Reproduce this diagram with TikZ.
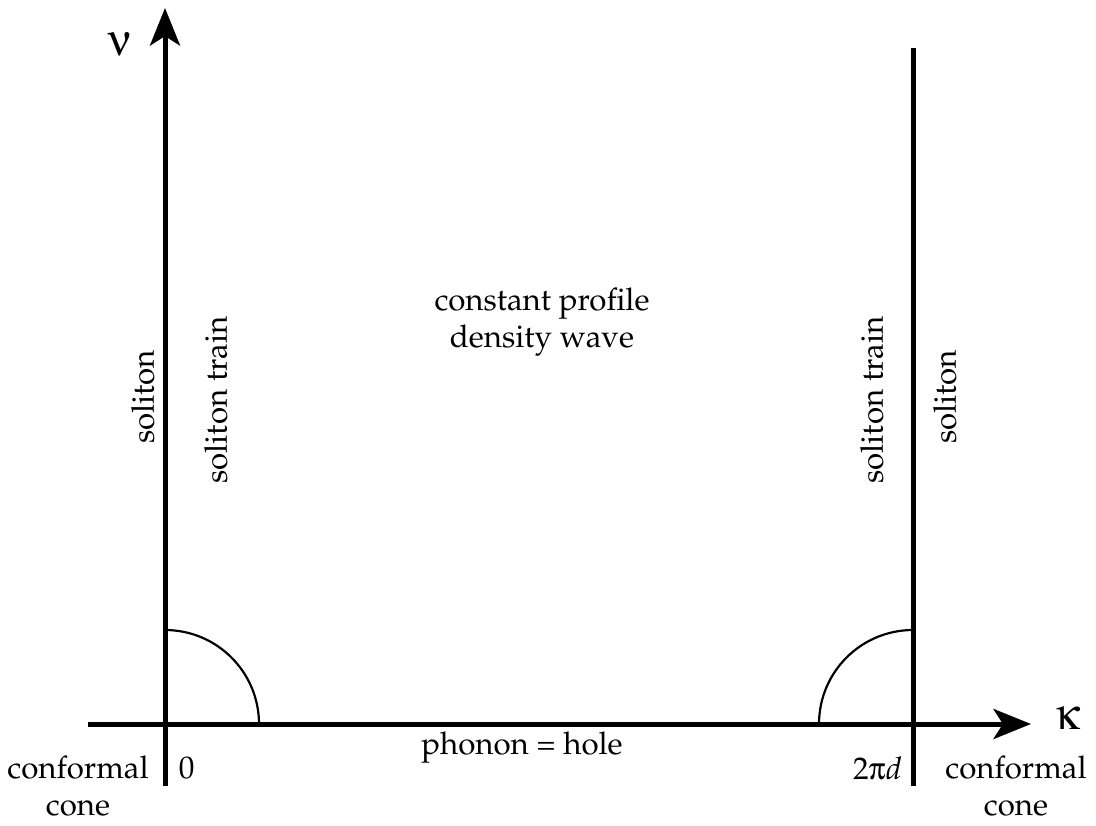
\documentclass[tikz,border=0pt]{standalone}
\usepackage[T1]{fontenc}
\usepackage{mathpazo}
\usepackage[Symbol]{upgreek}
\usepackage{tikz}
\usetikzlibrary{arrows.meta, positioning}
\tikzset{
  axisline/.style ={line width=1.6pt, color=black},
  axisarr/.style  ={-{Stealth[length=12pt, width=9.6pt, inset=3pt]}, line width=1.6pt, color=black},
  conearc/.style  ={line width=0.7pt, color=black},
  regionlbl/.style={font=\normalsize, align=center, inner sep=1pt},
  axislbl/.style  ={font=\Large, inner sep=1pt},
  sidelbl/.style  ={font=\normalsize, rotate=90, inner sep=1pt},
}

\begin{document}
\begin{tikzpicture}[x=0.32pt, y=-0.32pt]
  \useasboundingbox (0,0) rectangle (1096,826);
  % axes
  \coordinate (orig) at (165,724);
  \coordinate (right) at (913,724);
  \coordinate (ytop) at (165,8);
  \coordinate (ybot) at (165,786);
  \coordinate (xleft) at (88,724);
  \coordinate (xtip) at (1031,724);
  \coordinate (rtop) at (913,48);
  \coordinate (rbot) at (913,786);
  \draw[axisarr] (ybot) -- (ytop);
  \draw[axisarr] (xleft) -- (xtip);
  \draw[axisline] (rbot) -- (rtop);
  % quarter circles
  \draw[conearc] (259,724) arc[start angle=0, end angle=-90, radius=94];
  \draw[conearc] (819,724) arc[start angle=180, end angle=270, radius=94];
  % labels
  \node[axislbl] (nu) at (120,44) {$\upnu$};
  \node[axislbl] (kappa) at (1068,718) {$\upkappa$};
  \node[regionlbl, anchor=west] (zero) at (175,768) {0};
  \node[regionlbl, anchor=east] (twopid) at (906,768) {$2\uppi d$};
  \node[regionlbl] (confl) at (78,786) {conformal\\cone};
  \node[regionlbl] (confr) at (1016,786) {conformal\\cone};
  \node[regionlbl] (phonon) at (522,748) {phonon = hole};
  \node[regionlbl] (wave) at (542,322) {constant profile\\density wave};
  \node[sidelbl] (solL) at (143,397) {soliton};
  \node[sidelbl] (trainL) at (216,400) {soliton train};
  \node[sidelbl] (trainR) at (872,400) {soliton train};
  \node[sidelbl] (solR) at (945,397) {soliton};
\end{tikzpicture}
\end{document}
